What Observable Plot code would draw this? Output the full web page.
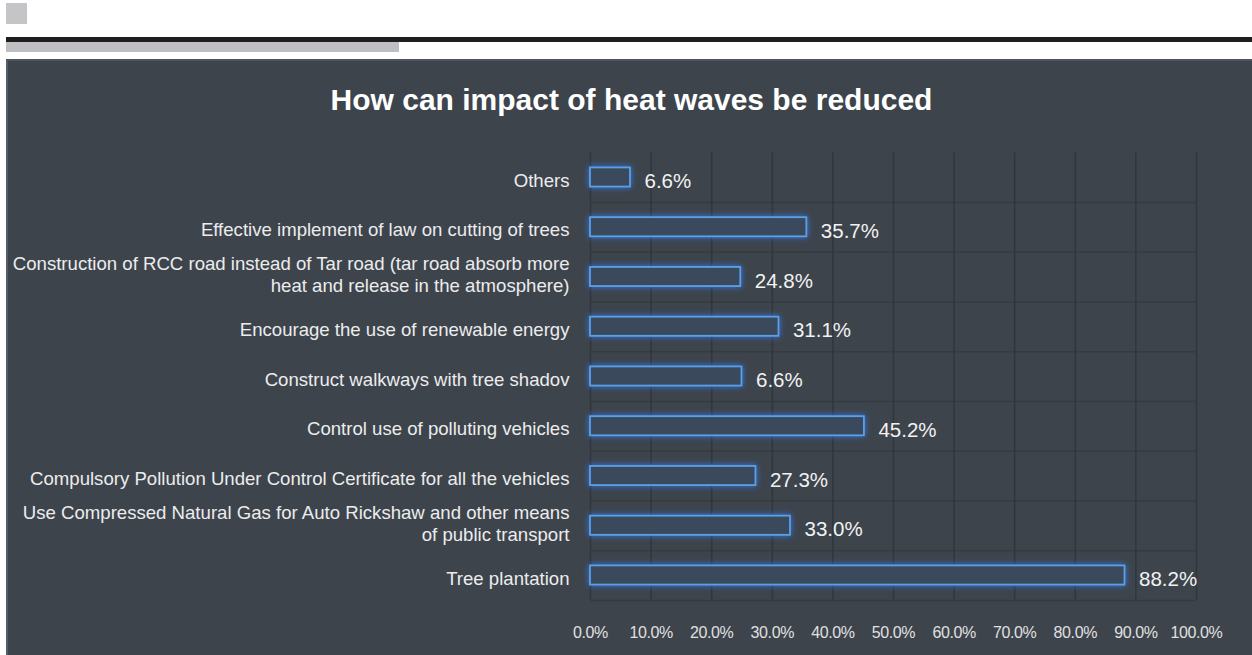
<!DOCTYPE html>
<html><head><meta charset="utf-8">
<script src="https://cdn.jsdelivr.net/npm/d3@7"></script>
<script src="https://cdn.jsdelivr.net/npm/@observablehq/plot@0.6"></script>
<style>
html,body{margin:0;padding:0;background:#fff;width:1252px;height:655px;overflow:hidden;font-family:"Liberation Sans",Arial,sans-serif}
#sq{position:absolute;left:6px;top:3px;width:21px;height:21px;background:#c5c5c8}
#blk{position:absolute;left:6px;top:37px;width:1246px;height:5px;background:#1e1e1e}
#gry{position:absolute;left:6px;top:42px;width:393px;height:10px;background:#bebfc3}
#panel{position:absolute;left:6px;top:59px;width:1246px;height:596px;background:#3d444c;border-top:2px solid #4d555d;border-left:2px solid #555d65;box-sizing:border-box}
#title{position:absolute;left:0;top:85px;width:1263px;text-align:center;color:#fff;font:bold 30px/30px "Liberation Sans",Arial,sans-serif;white-space:nowrap}
#chart{position:absolute;left:0;top:130px}
#chart svg{overflow:visible;display:block}
#chart g[aria-label="bar"] rect{filter:drop-shadow(0 0 3px rgba(50,130,255,0.85))}
#chart g[aria-label="x-axis tick label"] text{letter-spacing:-0.4px}
</style>
</head><body>
<div id="sq"></div><div id="blk"></div><div id="gry"></div>
<div id="panel"></div>
<div id="title">How can impact of heat waves be reduced</div>
<div id="chart"></div>
<script>
const categories = [
  "Others",
  "Effective implement of law on cutting of trees",
  "Construction of RCC road instead of Tar road (tar road absorb more\nheat and release in the atmosphere)",
  "Encourage the use of renewable energy",
  "Construct walkways with tree shadov",
  "Control use of polluting vehicles",
  "Compulsory Pollution Under Control Certificate for all the vehicles",
  "Use Compressed Natural Gas for Auto Rickshaw and other means\nof public transport",
  "Tree plantation"
];
const values = [6.6, 35.7, 24.8, 31.1, 25.0, 45.2, 27.3, 33.0, 88.2];
const valueLabels = ["6.6%", "35.7%", "24.8%", "31.1%", "6.6%", "45.2%", "27.3%", "33.0%", "88.2%"];
const xTicks = [0, 10, 20, 30, 40, 50, 60, 70, 80, 90, 100];
const xTickLabels = ["0.0%", "10.0%", "20.0%", "30.0%", "40.0%", "50.0%", "60.0%", "70.0%", "80.0%", "90.0%", "100.0%"];

const data = categories.map((c, i) => ({cat: c, value: values[i], label: valueLabels[i]}));
const singleLine = data.filter(d => !d.cat.includes("\n"));
const multiLine = data.filter(d => d.cat.includes("\n"));

const labelStyle = {y: "cat", text: "cat", frameAnchor: "left", dx: -21, textAnchor: "end", lineHeight: 1.2, fill: "#ececec", fontSize: 18.6};

const chart = Plot.plot({
  width: 1252,
  height: 525,
  marginLeft: 590,
  marginRight: 56,
  marginTop: 22.5,
  marginBottom: 55.5,
  style: {background: "transparent", color: "#e6e6e6", fontFamily: "'Liberation Sans', Arial, sans-serif"},
  x: {domain: [0, 100]},
  y: {domain: categories, paddingInner: 0.615, paddingOuter: 0.3, round: false, axis: null},
  marks: [
    Plot.gridX(xTicks, {stroke: "#2b3136", strokeOpacity: 0.7, strokeWidth: 1.5}),
    Plot.tickY(categories, {y: d => d, dy: 24.9, stroke: "#2f353b", strokeOpacity: 0.55, strokeWidth: 1.5}),
    Plot.barX(data, {x: "value", y: "cat", fill: "#3a4a5c", stroke: "#5b9fe9", strokeWidth: 1.8}),
    Plot.text(data, {x: "value", y: "cat", text: "label", dx: 14, dy: 4, textAnchor: "start", fill: "#f2f2f2", fontSize: 20.5}),
    Plot.text(singleLine, {...labelStyle, dy: 2}),
    Plot.text(multiLine, {...labelStyle, dy: -3}),
    Plot.axisX(xTicks, {tickSize: 0, tickPadding: 27, fontSize: 16, fill: "#e0e0e0", tickFormat: d => xTickLabels[xTicks.indexOf(d)], label: null})
  ]
});
document.getElementById("chart").appendChild(chart);
</script>
</body></html>
